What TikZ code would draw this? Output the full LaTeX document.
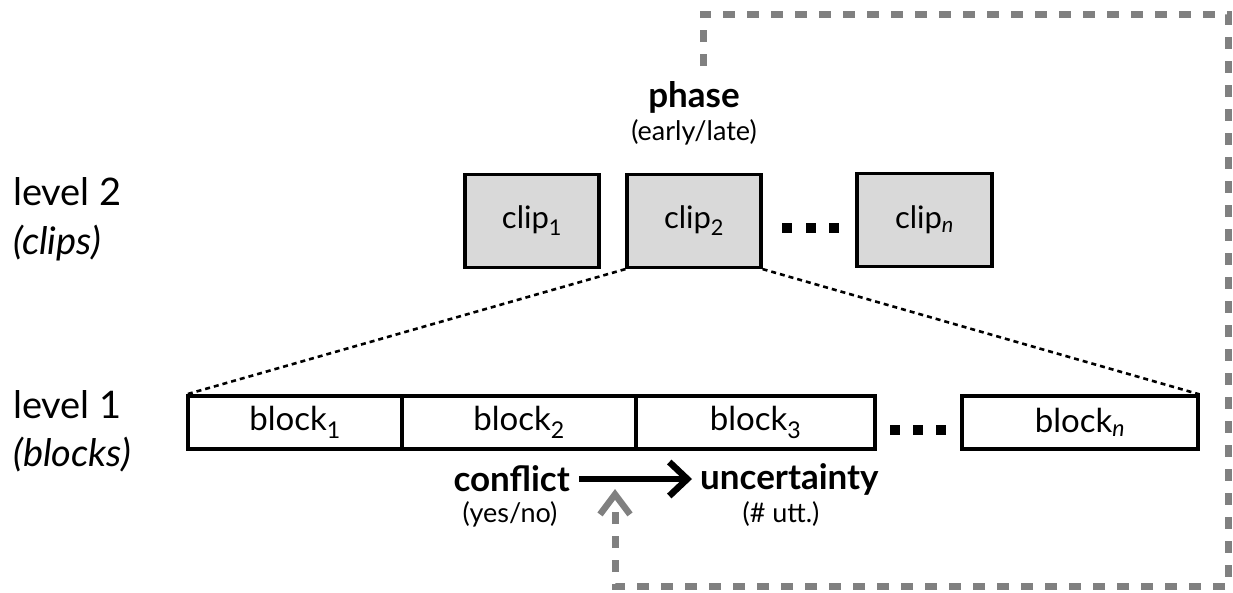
\documentclass[tikz,border=0pt]{standalone}
\usepackage{fontspec}
\setmainfont{Lato}
\usetikzlibrary{arrows.meta}
\definecolor{boxgray}{HTML}{D9D9D9}
\definecolor{loopgray}{HTML}{808080}
\newcommand\fsz[1]{\fontsize{#1}{#1}\selectfont}
\tikzset{
  clipbox/.style={draw=black,line width=3.2pt,fill=boxgray,minimum width=134pt,minimum height=93pt,inner sep=0pt,font=\fsz{31pt}},
  blockbox/.style={draw=black,line width=3.2pt,fill=white,minimum height=53pt,inner sep=0pt,font=\fsz{33pt}},
  lvl/.style={anchor=west,align=left,font=\fsz{38pt},inner sep=0pt},
  boldlab/.style={font=\bfseries\fsz{35pt},inner sep=0pt},
  sublab/.style={font=\fsz{27pt},inner sep=0pt},
  dotsq/.style={fill=black,minimum size=9.5pt,inner sep=0pt},
  zoomline/.style={line width=2.6pt,dash pattern=on 5pt off 4pt},
  loopline/.style={line width=7pt,draw=loopgray,dash pattern=on 12pt off 12pt},
}
\begin{document}
\begin{tikzpicture}[x=1pt,y=-1pt]
\useasboundingbox (0,0) rectangle (1233,592);
% level labels
\node[lvl] (l2) at (13,192) {level 2};
\node[lvl] (l2s) at (13,243) {\itshape (clips)};
\node[lvl] (l1) at (13,405) {level 1};
\node[lvl] (l1s) at (13,455) {\itshape (blocks)};
% clips
\node[clipbox] (c1) at (532,221) {clip\textsubscript{1}};
\node[clipbox] (c2) at (694,221) {clip\textsubscript{2}};
\node[clipbox,minimum width=135pt] (cn) at (924.5,220) {clip\textsubscript{\itshape n}};
\node[dotsq] (cd1) at (787,228) {};
\node[dotsq] (cd2) at (811,228) {};
\node[dotsq] (cd3) at (834,228) {};
% phase
\node[boldlab] (ph) at (694,97) {phase};
\node[sublab] (phs) at (694,132) {(early/late)};
% blocks
\node[blockbox,minimum width=214pt] (b1) at (295,422.5) {block\textsubscript{1}};
\node[blockbox,minimum width=234pt] (b2) at (519,422.5) {block\textsubscript{2}};
\node[blockbox,minimum width=239pt] (b3) at (755.5,422.5) {block\textsubscript{3}};
\node[blockbox,minimum width=236pt] (bn) at (1080,422.5) {block\textsubscript{\itshape n}};
\node[dotsq] (bd1) at (895,430) {};
\node[dotsq] (bd2) at (918,430) {};
\node[dotsq] (bd3) at (941,430) {};
% zoom lines
\draw[zoomline] (c2.south west) -- (b1.north west);
\draw[zoomline] (c2.south east) -- (bn.north east);
% conflict -> uncertainty
\node[boldlab,anchor=east] (cf) at (570,479) {conflict};
\node[sublab] (cfs) at (510,514) {(yes/no)};
\node[boldlab,anchor=west] (un) at (700,479) {uncertainty};
\node[sublab] (uns) at (781,514) {(\# utt.)};
\draw[line width=6pt,line cap=butt,-{Straight Barb[length=18pt,width=34pt,line width=6.5pt]}] (cf.east) ++(9pt,0) coordinate (a0) -- ([xshift=-8pt]un.west |- a0);
% loop
\coordinate (g0) at (703,66);
\coordinate (g1) at (615,489);
\draw[loopline,line cap=butt,-{Straight Barb[length=20pt,width=30pt,line width=6.5pt]}] (g0) -- (703,14) -- (1228,14) -- (1228,586) -- (615,586) -- (g1);
\end{tikzpicture}
\end{document}
